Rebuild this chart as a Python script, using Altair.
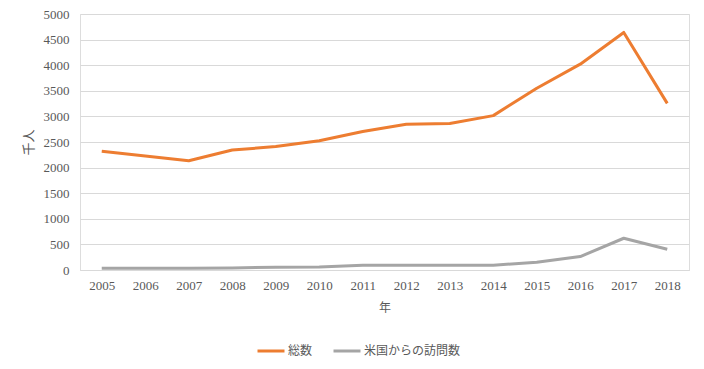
import altair as alt
import pandas as pd

years = [str(y) for y in range(2005, 2019)]
total = [2320, 2225, 2135, 2344, 2410, 2525, 2705, 2845, 2860, 3015, 3550, 4020, 4640, 3255]
usa = [35, 35, 35, 38, 55, 58, 95, 95, 95, 95, 150, 262, 620, 405]
series_names = ["総数", "米国からの訪問数"]
colors = ["#ED7D31", "#A5A5A5"]
y_ticks = [0, 500, 1000, 1500, 2000, 2500, 3000, 3500, 4000, 4500, 5000]

rows = []
for name, vals in zip(series_names, [total, usa]):
    for yr, v in zip(years, vals):
        rows.append({"年": yr, "値": v, "系列": name})
df = pd.DataFrame(rows)

num_font = "Liberation Serif"
jp_font = "Noto Sans CJK JP"
grey_text = "#595959"

chart = alt.Chart(df).mark_line(strokeWidth=3, strokeJoin="round", strokeCap="butt").encode(
    x=alt.X("年:O", sort=years, scale=alt.Scale(type="point", padding=0.5),
            axis=alt.Axis(title="年", labelAngle=0, labelFont=num_font, labelFontSize=13,
                          labelColor=grey_text, titleFont=jp_font, titleFontSize=12,
                          titleFontWeight="normal", titleColor=grey_text, ticks=False,
                          domainColor="#d9d9d9", labelPadding=9, titlePadding=10, grid=False)),
    y=alt.Y("値:Q", scale=alt.Scale(domain=[0, 5000], nice=False),
            axis=alt.Axis(title="千人", values=y_ticks, format="d", labelFont=num_font,
                          labelFontSize=13, labelColor=grey_text, titleFont=jp_font,
                          titleFontSize=13, titleFontWeight="normal", titleColor=grey_text,
                          ticks=False, domain=False, gridColor="#d9d9d9", gridWidth=1,
                          labelPadding=11, titlePadding=8)),
    color=alt.Color("系列:N", scale=alt.Scale(domain=series_names, range=colors),
                    legend=alt.Legend(title=None, orient="none", direction="horizontal",
                                      legendX=176, legendY=322, symbolType="stroke",
                                      symbolStrokeWidth=3, symbolSize=729,
                                      labelFont=jp_font, labelFontSize=12,
                                      labelColor=grey_text, columnPadding=14,
                                      labelOffset=2)),
).properties(
    width=609, height=256,
    autosize=alt.AutoSizeParams(type="none"),
    padding={"left": 72, "top": 6, "right": 7, "bottom": 96},
).configure_view(stroke=None).configure(background="white")

chart.save("out.html", embed_options={"renderer": "svg", "actions": False})
